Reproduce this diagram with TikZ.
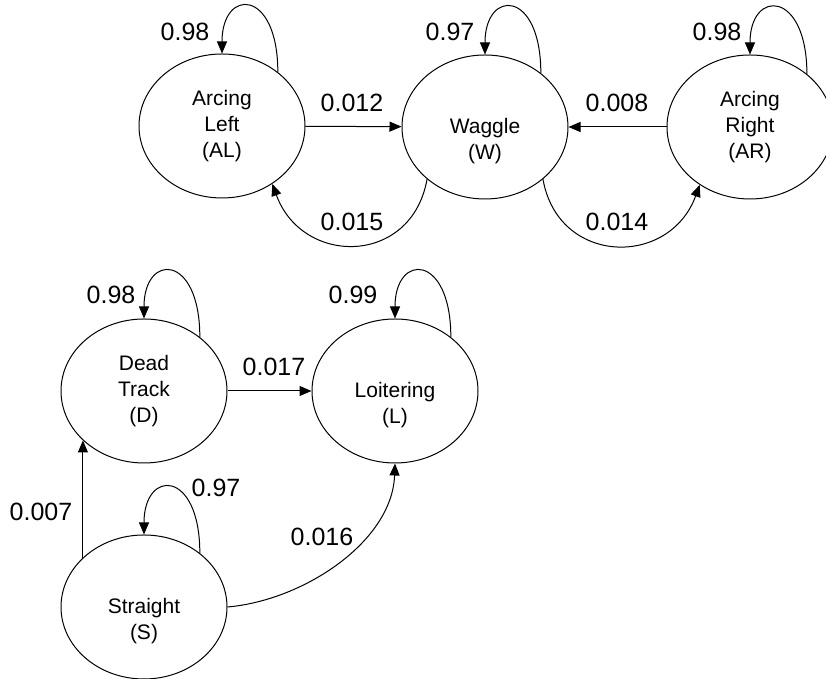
\documentclass[tikz,border=0pt]{standalone}
\usepackage{fontspec}
\setmainfont{Liberation Sans}
\usetikzlibrary{arrows.meta,shapes.geometric}

\begin{document}
\begin{tikzpicture}[x=0.5pt, y=0.5pt, line width=0.5pt,
		>={Triangle[length=6pt,width=5pt]},
		state/.style={draw, ellipse, minimum width=83pt, minimum height=72pt,
			inner sep=0pt, align=center, font=\fontsize{10.5}{13}\selectfont},
		prob/.style={inner sep=0pt, font=\fontsize{12.5}{15}\selectfont}]
	\useasboundingbox (0,0) rectangle (826,679);

	% top row
	\node[state] (AL) at (222, 553) {Arcing\\Left\\(AL)};
	\node[state] (W)  at (485, 552) {\strut\\Waggle\\(W)};
	\node[state] (AR) at (750, 552) {Arcing\\Right\\(AR)};

	\draw[->] (AL.44) .. controls +(90:84) and +(90:66) .. (AL.north);
	\draw[->] (W.44) .. controls +(90:84) and +(90:66) .. (W.north);
	\draw[->] (AR.43) .. controls +(90:84) and +(90:66) .. (AR.north);
	\node[prob] (pAL) at (185, 647) {0.98};
	\node[prob] (pW)  at (450, 647) {0.97};
	\node[prob] (pAR) at (717, 647) {0.98};

	\draw[->] (AL) -- (W);
	\draw[->] (AR) -- (W);
	\node[prob] (pALW) at (352, 576) {0.012};
	\node[prob] (pARW) at (617, 576) {0.008};

	\draw[->] (W.222) .. controls +(-100:88) and +(-70:88) .. (AL.311);
	\draw[->] (W.318) .. controls +(-80:88) and +(-110:88) .. (AR.229);
	\node[prob] (pWAL) at (352, 457) {0.015};
	\node[prob] (pWAR) at (617, 457) {0.014};

	% bottom part
	\node[state] (D) at (144, 288) {Dead\\Track\\(D)};
	\node[state] (L) at (395, 288) {\strut\\Loitering\\(L)};
	\node[state] (S) at (144, 72)  {\strut\\Straight\\(S)};

	\draw[->] (D.44) .. controls +(90:84) and +(90:66) .. (D.north);
	\draw[->] (L.44) .. controls +(90:84) and +(90:66) .. (L.north);
	\draw[->] (S.44) .. controls +(90:84) and +(90:66) .. (S.north);
	\node[prob] (pD) at (111, 384) {0.98};
	\node[prob] (pL) at (353, 384) {0.99};
	\node[prob] (pS) at (216, 191) {0.97};

	\draw[->] (D) -- (L);
	\draw[->] (S.141) -- (D.219);
	\draw[->] (S.east) to[out=5, in=-92, looseness=0.9] (L.south);
	\node[prob] (pDL) at (274, 312) {0.017};
	\node[prob] (pSD) at (41, 167)  {0.007};
	\node[prob] (pSL) at (322, 142) {0.016};
\end{tikzpicture}
\end{document}
